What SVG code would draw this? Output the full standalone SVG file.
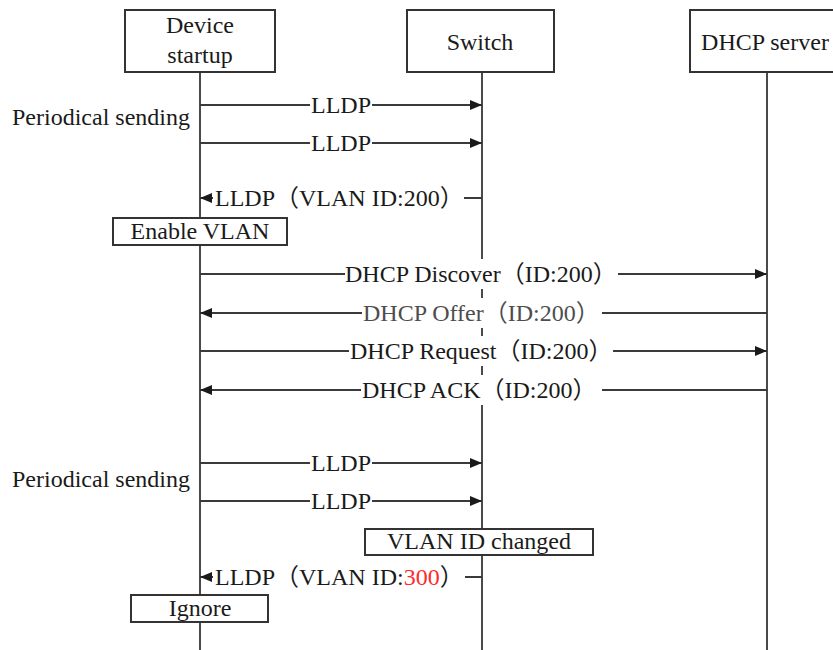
<svg xmlns="http://www.w3.org/2000/svg" width="833" height="650" viewBox="0 0 833 650">
  <style>
    .box { fill: #ffffff; stroke: #333333; stroke-width: 2; }
    .life { stroke: #4a4a4a; stroke-width: 2; fill: none; }
    .msg { stroke: #3a3a3a; stroke-width: 2; fill: none; marker-end: url(#arrow); }
    .plain { stroke: #3a3a3a; stroke-width: 2; fill: none; }
    .bg { fill: #ffffff; stroke: none; }
    text { font-family: "Liberation Serif", "Noto Sans CJK SC", serif; font-size: 24px; fill: #1a1a1a; }
    .mid { text-anchor: middle; }
    .grey { fill: #4d4d4d; }
    .red { fill: #ff2a2a; }
  </style>
  <defs>
    <marker id="arrow" viewBox="0 0 12 10" refX="12" refY="5" markerWidth="12" markerHeight="10" markerUnits="userSpaceOnUse" orient="auto">
      <path d="M0,0 L12,5 L0,10 Z" fill="#1a1a1a"/>
    </marker>
  </defs>

  <rect width="833" height="650" fill="#ffffff"/>

  <!-- Lifelines -->
  <g id="lifelines">
    <line class="life" x1="200" y1="72" x2="200" y2="650"/>
    <line class="life" x1="482" y1="72" x2="482" y2="650"/>
    <line class="life" x1="767" y1="72" x2="767" y2="650"/>
  </g>

  <!-- Participant nodes -->
  <g id="device">
    <rect class="box" x="125" y="10" width="150" height="62"/>
    <text class="mid" x="200" y="33">Device</text>
    <text class="mid" x="200" y="63">startup</text>
  </g>
  <g id="switch">
    <rect class="box" x="407" y="10" width="147" height="62"/>
    <text class="mid" x="480" y="50">Switch</text>
  </g>
  <g id="dhcp-server">
    <rect class="box" x="690" y="10" width="160" height="62"/>
    <text class="mid" x="765" y="50">DHCP server</text>
  </g>

  <!-- Side labels -->
  <g id="periodical-1">
    <text x="12" y="125">Periodical sending</text>
  </g>
  <g id="periodical-2">
    <text x="12" y="487">Periodical sending</text>
  </g>

  <!-- Connectors -->
  <g id="connectors">
    <line class="msg" x1="200" y1="105" x2="482" y2="105"/>
    <line class="msg" x1="200" y1="143" x2="482" y2="143"/>
    <line class="msg" x1="482" y1="198" x2="200" y2="198"/>
    <line class="msg" x1="200" y1="274" x2="767" y2="274"/>
    <line class="msg" x1="767" y1="313" x2="200" y2="313"/>
    <line class="msg" x1="200" y1="351" x2="767" y2="351"/>
    <line class="msg" x1="767" y1="390" x2="200" y2="390"/>
    <line class="msg" x1="200" y1="463" x2="482" y2="463"/>
    <line class="msg" x1="200" y1="501" x2="482" y2="501"/>
    <line class="msg" x1="482" y1="577" x2="200" y2="577"/>
  </g>

  <!-- Connector labels -->
  <g id="labels">
    <rect class="bg" x="310" y="93" width="62" height="24"/>
    <text x="311" y="113">LLDP</text>

    <rect class="bg" x="310" y="131" width="62" height="24"/>
    <text x="311" y="151">LLDP</text>

    <rect class="bg" x="213" y="184" width="251" height="28"/>
    <text x="215" y="206">LLDP（VLAN ID:200）</text>

    <rect class="bg" x="345" y="259" width="273" height="30"/>
    <text x="345" y="282">DHCP Discover（ID:200）</text>

    <rect class="bg" x="362" y="298" width="240" height="30"/>
    <text class="grey" x="363" y="321">DHCP Offer（ID:200）</text>

    <rect class="bg" x="349" y="336" width="264" height="30"/>
    <text x="350" y="359">DHCP Request（ID:200）</text>

    <rect class="bg" x="361" y="375" width="241" height="30"/>
    <text x="362" y="398">DHCP ACK（ID:200）</text>

    <rect class="bg" x="310" y="451" width="62" height="24"/>
    <text x="311" y="471">LLDP</text>

    <rect class="bg" x="310" y="489" width="62" height="24"/>
    <text x="311" y="509">LLDP</text>

    <rect class="bg" x="213" y="563" width="252" height="28"/>
    <text x="215" y="585">LLDP（VLAN ID:<tspan class="red">300</tspan>）</text>
  </g>

  <!-- Notes -->
  <g id="enable-vlan">
    <rect class="box" x="113" y="218" width="174" height="27"/>
    <text class="mid" x="200" y="239">Enable VLAN</text>
  </g>
  <g id="vlan-id-changed">
    <rect class="box" x="365" y="529" width="228" height="26"/>
    <text class="mid" x="479" y="549">VLAN ID changed</text>
  </g>
  <g id="ignore">
    <rect class="box" x="131" y="595" width="137" height="27"/>
    <text class="mid" x="200" y="616">Ignore</text>
  </g>
</svg>
